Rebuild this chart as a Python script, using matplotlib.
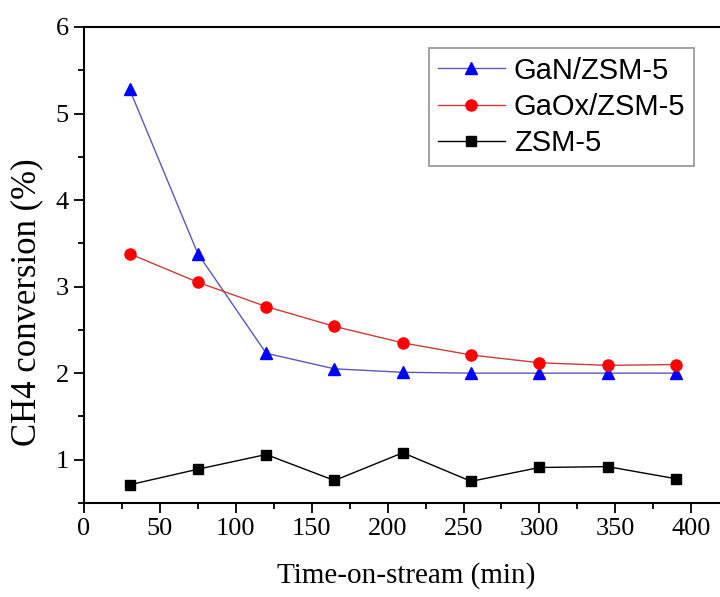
import matplotlib.pyplot as plt
from matplotlib.ticker import MultipleLocator

time_min = [30, 75, 120, 165, 210, 255, 300, 345, 390]
gan_zsm5 = [5.28, 3.38, 2.23, 2.05, 2.01, 2.00, 2.00, 2.00, 2.00]
gaox_zsm5 = [3.38, 3.05, 2.77, 2.54, 2.35, 2.21, 2.12, 2.09, 2.10]
zsm5 = [0.71, 0.89, 1.06, 0.76, 1.08, 0.75, 0.91, 0.92, 0.78]

serif = "Liberation Serif"
sans = "Liberation Sans"

fig = plt.figure(figsize=(7.2, 5.97), dpi=100)
ax = fig.add_axes([0.1167, 0.1575, 0.896, 0.7973])

ax.plot(time_min, gan_zsm5, color="#5a5ab4", lw=1, marker="^", ms=9,
        mfc="#0000ff", mec="#0000ff", label="GaN/ZSM-5")
ax.plot(time_min, gaox_zsm5, color="#c83c3c", lw=1, marker="o", ms=8,
        mfc="#ff0000", mec="#ff0000", label="GaOx/ZSM-5")
ax.plot(time_min, zsm5, color="black", lw=1, marker="s", ms=7.5,
        mfc="black", mec="black", label="ZSM-5")

ax.set_xlim(0, 425)
ax.set_ylim(0.5, 6)
ax.xaxis.set_major_locator(MultipleLocator(50))
ax.xaxis.set_minor_locator(MultipleLocator(25))
ax.yaxis.set_major_locator(MultipleLocator(1))
ax.yaxis.set_minor_locator(MultipleLocator(0.5))
ax.tick_params(which="both", direction="out", width=1.3)
ax.tick_params(which="major", length=7, labelsize=19, pad=4)
ax.tick_params(which="minor", length=4)
for lab in ax.get_xticklabels() + ax.get_yticklabels():
    lab.set_fontfamily(serif)
for sp in ax.spines.values():
    sp.set_linewidth(1.5)

ax.set_xlabel("Time-on-stream (min)", fontsize=21, family=serif, labelpad=16)
ax.set_ylabel("CH4 conversion (%)", fontsize=25, family=serif)
ax.yaxis.set_label_coords(-0.063, 0.422)

leg = ax.legend(loc="upper left", bbox_to_anchor=(0.535, 0.956),
                prop={"family": sans, "size": 21}, frameon=True, fancybox=False,
                handlelength=2.3, handletextpad=0.3, labelspacing=0.28,
                borderpad=0.3, borderaxespad=0)
leg.get_frame().set_edgecolor("#777777")
leg.get_frame().set_linewidth(1.2)

fig.savefig("out.png", dpi=100)
